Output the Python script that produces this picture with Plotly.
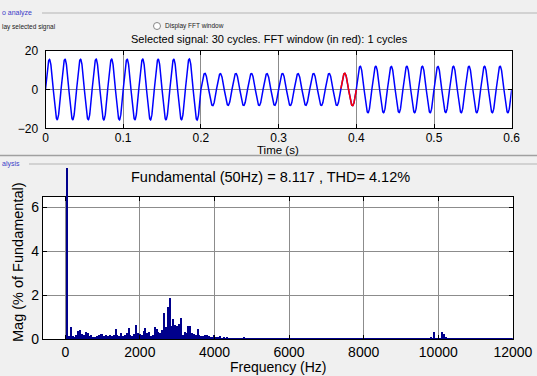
import numpy as np
import plotly.graph_objects as go

# ---------------- data ----------------
F0 = 50.0                       # fundamental (Hz)
T_END = 0.6                     # signal length (s)
FFT_WINDOW = [0.38, 0.40]       # FFT window (s), drawn in red
# peak amplitude of each of the 30 cycles
cycle_amplitude = [15.5, 15.6, 15.6, 15.7, 15.7, 15.6, 15.7, 15.6, 15.6, 15.8,
                   8.4, 8.2, 8.3, 8.3, 8.2, 8.3, 8.2, 8.3, 8.3, 8.4,
                   12.0, 12.0, 11.9, 12.0, 12.0, 11.9, 12.0, 12.0, 12.0, 12.0]

# harmonic spectrum, % of fundamental, 50 Hz bins from 0 Hz to 12000 Hz
FUND_MAG = 100.0
mag_0_1000 = [0.0, FUND_MAG, 0.15, 0.58, 0.14, 0.12, 0.20, 0.40, 0.44, 0.26,
              0.22, 0.33, 0.30, 0.18, 0.20, 0.12, 0.10, 0.15, 0.20, 0.26]
mag_1000_2000 = [0.25, 0.18, 0.20, 0.15, 0.20, 0.18, 0.22, 0.48, 0.20, 0.15,
                 0.28, 0.18, 0.20, 0.30, 0.52, 0.20, 0.15, 0.25, 0.64, 0.30]
mag_2000_3000 = [0.26, 0.20, 0.40, 0.53, 0.30, 0.33, 0.15, 0.20, 0.55, 0.50,
                 0.33, 0.30, 0.45, 1.20, 0.55, 1.50, 1.88, 0.60, 0.94, 0.64]
mag_3000_4000 = [0.60, 0.70, 0.98, 0.20, 0.35, 0.30, 0.60, 0.62, 0.30, 0.25,
                 0.20, 0.50, 0.20, 0.18, 0.15, 0.20, 0.20, 0.18, 0.12, 0.10]
mag_4000_5000 = [0.22, 0.12, 0.10, 0.14, 0.08, 0.10, 0.08, 0.10, 0.07, 0.06,
                 0.06, 0.05, 0.07, 0.05, 0.06, 0.04, 0.10, 0.06, 0.04, 0.05]
mag_5000_6000 = [0.05, 0.04, 0.06, 0.04, 0.05, 0.04, 0.05, 0.04, 0.04, 0.05,
                 0.08, 0.04, 0.05, 0.03, 0.04, 0.03, 0.04, 0.03, 0.04, 0.03]
mag_6000_7000 = [0.03, 0.03, 0.04, 0.03, 0.03, 0.02, 0.03, 0.03, 0.04, 0.03,
                 0.03, 0.02, 0.03, 0.03, 0.02, 0.03, 0.03, 0.02, 0.03, 0.03]
mag_7000_8000 = [0.02, 0.03, 0.03, 0.02, 0.03, 0.02, 0.03, 0.02, 0.02, 0.03,
                 0.02, 0.03, 0.02, 0.02, 0.03, 0.02, 0.02, 0.03, 0.02, 0.02]
mag_8000_9000 = [0.02, 0.02, 0.03, 0.02, 0.02, 0.02, 0.03, 0.02, 0.02, 0.02,
                 0.02, 0.03, 0.02, 0.02, 0.02, 0.02, 0.03, 0.02, 0.02, 0.02]
mag_9000_10000 = [0.02, 0.02, 0.02, 0.03, 0.02, 0.02, 0.03, 0.02, 0.03, 0.03,
                  0.03, 0.04, 0.04, 0.03, 0.04, 0.06, 0.10, 0.05, 0.33, 0.08]
mag_10000_11000 = [0.05, 0.06, 0.33, 0.25, 0.10, 0.04, 0.03, 0.03, 0.02, 0.02,
                   0.02, 0.02, 0.02, 0.02, 0.02, 0.02, 0.02, 0.02, 0.02, 0.02]
mag_11000_12000 = [0.02, 0.02, 0.02, 0.02, 0.02, 0.02, 0.02, 0.02, 0.02, 0.02,
                   0.02, 0.02, 0.02, 0.02, 0.02, 0.02, 0.02, 0.02, 0.02, 0.02, 0.02]

time_ticks = [0, 0.1, 0.2, 0.3, 0.4, 0.5, 0.6]
time_tick_text = ["0", "0.1", "0.2", "0.3", "0.4", "0.5", "0.6"]
freq_ticks = [0, 2000, 4000, 6000, 8000, 10000, 12000]
freq_tick_text = ["0", "2000", "4000", "6000", "8000", "10000", "12000"]

TITLE_TOP = "Selected signal: 30 cycles. FFT window (in red): 1 cycles"
TITLE_BOT = "Fundamental (50Hz) = 8.117 , THD= 4.12%"

# ---------------- build series ----------------
mags = (mag_0_1000 + mag_1000_2000 + mag_2000_3000 + mag_3000_4000 +
        mag_4000_5000 + mag_5000_6000 + mag_6000_7000 + mag_7000_8000 +
        mag_8000_9000 + mag_9000_10000 + mag_10000_11000 + mag_11000_12000)
freqs = [F0 * i for i in range(len(mags))]
fund_idx = mags.index(FUND_MAG)
harm_f = [f for i, f in enumerate(freqs) if i != fund_idx]
harm_m = [m for i, m in enumerate(mags) if i != fund_idx]

n_cyc = len(cycle_amplitude)
t = np.linspace(0, T_END, 3001)
idx = np.minimum((t * F0).astype(int), n_cyc - 1)
sig = np.array(cycle_amplitude)[idx] * np.sin(2 * np.pi * F0 * t)
win = (t >= FFT_WINDOW[0]) & (t <= FFT_WINDOW[1])

# ---------------- layout geometry ----------------
W, H = 537, 376
def px(x): return x / W
def py(y): return 1 - y / H

FONT = "Liberation Sans, Arial, sans-serif"
BLUE = "#0000ff"
NAVY = "#00008c"
GRID = "#8c8c8c"

top_dom_x = [px(45.5), px(511.7)]
top_dom_y = [py(128.3), py(50.7)]
bot_dom_x = [px(42.9), px(512.9)]
bot_dom_y = [py(339.0), py(196.5)]
ext_top = py(168)
Y2_RANGE = [0, 6.5]
y3_top = Y2_RANGE[1] * (ext_top - bot_dom_y[0]) / (bot_dom_y[1] - bot_dom_y[0])

fig = go.Figure()

# top: signal
fig.add_trace(go.Scatter(x=t, y=sig, mode="lines", line=dict(color=BLUE, width=1.5),
                         xaxis="x", yaxis="y", hoverinfo="skip", showlegend=False))
fig.add_trace(go.Scatter(x=t[win], y=sig[win], mode="lines", line=dict(color="#ff0000", width=1.5),
                         xaxis="x", yaxis="y", hoverinfo="skip", showlegend=False))

# bottom: harmonic bars
fig.add_trace(go.Scatter(x=[freqs[0], freqs[-1]], y=[0, 0], mode="lines",
                         line=dict(color=NAVY, width=2), xaxis="x2", yaxis="y2",
                         showlegend=False, hoverinfo="skip"))
fig.add_trace(go.Bar(x=harm_f, y=harm_m, width=38, marker=dict(color=NAVY, line=dict(width=0)),
                     xaxis="x2", yaxis="y2", showlegend=False))
# fundamental bar (runs above the axes, as in the original)
fig.add_trace(go.Bar(x=[freqs[fund_idx]], y=[mags[fund_idx]], width=55,
                     marker=dict(color=NAVY, line=dict(width=0)),
                     xaxis="x3", yaxis="y3", showlegend=False))

axis_common = dict(showline=True, linecolor="black", linewidth=1, mirror="allticks",
                   ticks="inside", ticklen=4, tickcolor="black", zeroline=False,
                   showgrid=True, gridcolor=GRID, gridwidth=1, automargin=False)

fig.update_layout(
    template="none",
    width=W, height=H, margin=dict(l=0, r=0, t=0, b=0, pad=0), autosize=False,
    paper_bgcolor="#f0f0f0", plot_bgcolor="rgba(0,0,0,0)",
    font=dict(family=FONT, color="black"),
    bargap=0,
    xaxis=dict(domain=top_dom_x, anchor="y", range=[0, 0.6], tickvals=time_ticks,
               ticktext=time_tick_text, tickfont=dict(size=12), ticklabelstandoff=-2,
               **axis_common),
    yaxis=dict(domain=top_dom_y, anchor="x", range=[-20, 20], tickvals=[-20, 0, 20],
               tickfont=dict(size=12), ticklabelstandoff=4, **axis_common),
    xaxis2=dict(domain=bot_dom_x, anchor="y2", range=[-600, 12000], tickvals=freq_ticks,
                ticktext=freq_tick_text, tickfont=dict(size=14), **axis_common),
    yaxis2=dict(domain=bot_dom_y, anchor="x2", range=Y2_RANGE, tickvals=[0, 2, 4, 6],
                tickfont=dict(size=14), **axis_common),
    xaxis3=dict(domain=bot_dom_x, anchor="y3", range=[-600, 12000], visible=False, automargin=False),
    yaxis3=dict(domain=[bot_dom_y[0], ext_top], anchor="x3", range=[0, y3_top], visible=False,
                automargin=False),
)

shapes = [
    dict(type="rect", xref="x domain", yref="y domain", x0=0, x1=1, y0=0, y1=1,
         fillcolor="white", line=dict(width=0), layer="below"),
    dict(type="rect", xref="x2 domain", yref="y2 domain", x0=0, x1=1, y0=0, y1=1,
         fillcolor="white", line=dict(width=0), layer="below"),
    # panel separators
    dict(type="line", xref="paper", yref="paper", x0=px(42), x1=1, y0=py(13), y1=py(13),
         line=dict(color="#b4b4b4", width=1)),
    dict(type="line", xref="paper", yref="paper", x0=0, x1=1, y0=py(155.5), y1=py(155.5),
         line=dict(color="#a0a0a0", width=1.5)),
    dict(type="line", xref="paper", yref="paper", x0=px(29), x1=1, y0=py(164), y1=py(164),
         line=dict(color="#b4b4b4", width=1)),
    # radio button
    dict(type="circle", xref="paper", yref="paper", x0=px(153.5), x1=px(160.5), y0=py(29.5), y1=py(22.5),
         fillcolor="white", line=dict(color="#888888", width=1)),
]
fig.update_layout(shapes=shapes)

ann = [
    dict(text="o analyze", x=px(0), y=py(13), xanchor="left", yanchor="middle",
         font=dict(size=7, color="#3c3cc8")),
    dict(text="lay selected signal", x=px(0), y=py(27), xanchor="left", yanchor="middle",
         font=dict(size=6.5, color="#222222")),
    dict(text="Display FFT window", x=px(163), y=py(26), xanchor="left", yanchor="middle",
         font=dict(size=6.5, color="#222222")),
    dict(text=TITLE_TOP, x=px(269.5), y=py(39), xanchor="center", yanchor="middle",
         font=dict(size=11)),
    dict(text="Time (s)", x=px(278), y=py(149.5), xanchor="center", yanchor="middle",
         font=dict(size=11.5)),
    dict(text="alysis", x=px(0), y=py(164), xanchor="left", yanchor="middle",
         font=dict(size=7, color="#3c3cc8")),
    dict(text=TITLE_BOT, x=px(270), y=py(177), xanchor="center", yanchor="middle",
         font=dict(size=14.5)),
    dict(text="Mag (% of Fundamental)", x=px(18), y=py(262), xanchor="center", yanchor="middle",
         textangle=-90, font=dict(size=14.5)),
    dict(text="Frequency (Hz)", x=px(278), y=py(367), xanchor="center", yanchor="middle",
         font=dict(size=14)),
]
for a in ann:
    a.update(xref="paper", yref="paper", showarrow=False)
fig.update_layout(annotations=ann)

fig.write_html("out.html")
